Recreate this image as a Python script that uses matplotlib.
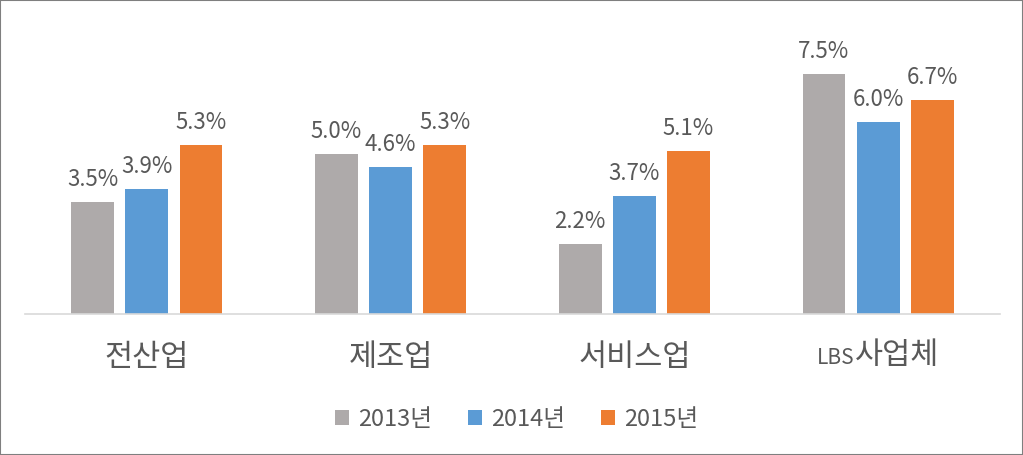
import numpy as np
import matplotlib.pyplot as plt
from matplotlib.patches import Patch
from matplotlib.offsetbox import TextArea, HPacker, AnnotationBbox

plt.rcParams['font.family'] = ['Noto Sans CJK KR', 'DejaVu Sans']

categorias = ['전산업', '제조업', '서비스업', 'LBS사업체']
anos = ['2013년', '2014년', '2015년']
valores_2013 = [3.5, 5.0, 2.2, 7.5]
valores_2014 = [3.9, 4.6, 3.7, 6.0]
valores_2015 = [5.3, 5.3, 5.1, 6.7]

cores = ['#AEAAAA', '#5B9BD5', '#ED7D31']
cor_texto = '#595959'

fig = plt.figure(figsize=(10.23, 4.55), dpi=100)
ax = fig.add_axes([0.0244, 0.31, 0.9531, 0.60])

x = np.arange(len(categorias))
largura = 0.176
passo = 0.222

series = [valores_2013, valores_2014, valores_2015]
for i, (serie, cor) in enumerate(zip(series, cores)):
    rects = ax.bar(x + (i - 1) * passo, serie, largura, color=cor, label=anos[i])
    # etiquetas em cima das barras
    for rect, valor in zip(rects, serie):
        ax.annotate(f'{valor:.1f}%',
                    xy=(rect.get_x() + rect.get_width() / 2, rect.get_height()),
                    xytext=(0, 8), textcoords='offset points',
                    ha='center', va='bottom', fontsize=16, color=cor_texto)

ax.set_xlim(-0.5, 3.5)
ax.set_ylim(0, 8.55)
ax.set_yticks([])
ax.set_xticks(x)
# o ultimo rotulo tem "LBS" menor, desenhado a parte
ax.set_xticklabels(categorias[:-1] + [''], fontsize=22, color=cor_texto)
ax.tick_params(axis='x', length=0, pad=20)

ultimo = categorias[-1]
parte_latina = ultimo[:3]
parte_coreana = ultimo[3:]
caixa = HPacker(children=[
    TextArea(parte_latina, textprops=dict(fontsize=15, color=cor_texto)),
    TextArea(parte_coreana, textprops=dict(fontsize=22, color=cor_texto)),
], align='baseline', pad=0, sep=0)
ab = AnnotationBbox(caixa, (x[-1], 0), xybox=(0, -19), xycoords='data',
                    boxcoords='offset points', frameon=False,
                    box_alignment=(0.5, 1.0))
ax.add_artist(ab)

for lado in ['top', 'right', 'left']:
    ax.spines[lado].set_visible(False)
ax.spines['bottom'].set_color('#D9D9D9')
ax.spines['bottom'].set_linewidth(1.2)

handles = [Patch(facecolor=c, label=a) for c, a in zip(cores, anos)]
leg = fig.legend(handles=handles, loc='center', bbox_to_anchor=(0.505, 0.078),
                 ncol=3, frameon=False, fontsize=17, handlelength=0.6,
                 handleheight=0.6, handletextpad=0.4, columnspacing=1.5)
for t in leg.get_texts():
    t.set_color(cor_texto)

# moldura da imagem
fig.patches.append(plt.Rectangle((0, 0), 1, 1, transform=fig.transFigure,
                                 fill=False, edgecolor='#7F7F7F', linewidth=1.5))

plt.savefig('out.png', dpi=100)
plt.close('all')
